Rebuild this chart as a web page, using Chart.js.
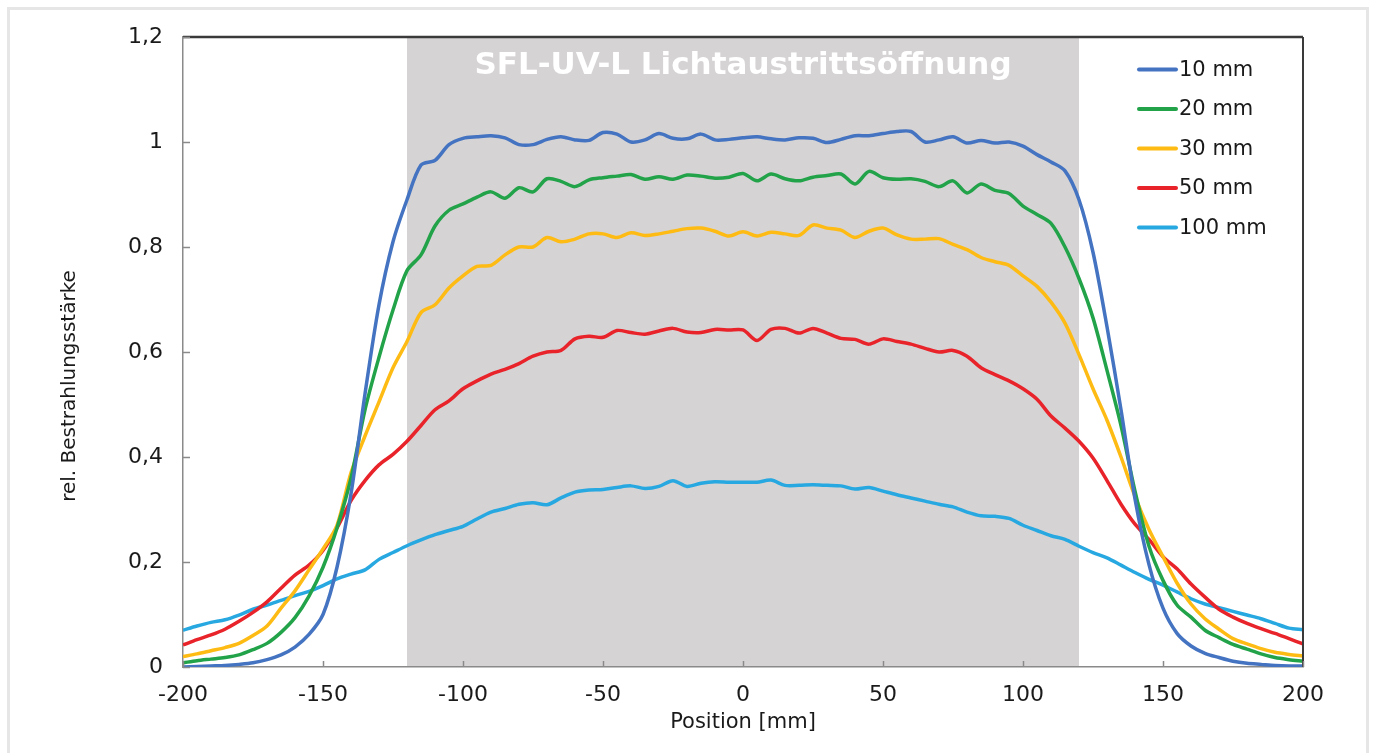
<!DOCTYPE html>
<html>
<head>
<meta charset="utf-8">
<script src="https://cdn.jsdelivr.net/npm/chart.js@4.4.1/dist/chart.umd.min.js"></script>
<style>
  html, body { margin: 0; padding: 0; background: #ffffff; }
  #frame { position: absolute; left: 7px; top: 7px; width: 1362px; height: 760px; border: 3px solid #e6e6e6; box-sizing: border-box; }
  #wrap { position: absolute; left: 0; top: 0; width: 1375px; height: 753px; }
</style>
</head>
<body>
<div id="frame"></div>
<div id="wrap"><canvas id="c" width="1375" height="753"></canvas></div>
<script>
// ---- data ----
const POSITIONS = [-200,-195,-190,-185,-180,-175,-170,-165,-160,-155,-150,-145,-140,-135,-130,-125,-120,-115,-110,-105,-100,-95,-90,-85,-80,-75,-70,-65,-60,-55,-50,-45,-40,-35,-30,-25,-20,-15,-10,-5,0,5,10,15,20,25,30,35,40,45,50,55,60,65,70,75,80,85,90,95,100,105,110,115,120,125,130,135,140,145,150,155,160,165,170,175,180,185,190,195,200];

const SERIES_NAMES = ['10 mm', '20 mm', '30 mm', '50 mm', '100 mm'];

const VALUES_10MM = [0.000,0.001,0.002,0.003,0.005,0.008,0.014,0.023,0.038,0.062,0.100,0.190,0.330,0.520,0.690,0.810,0.890,0.956,0.965,0.995,1.007,1.010,1.012,1.008,0.995,0.995,1.005,1.010,1.004,1.003,1.018,1.015,1.000,1.004,1.016,1.007,1.006,1.015,1.004,1.005,1.008,1.010,1.006,1.004,1.008,1.007,0.999,1.005,1.012,1.012,1.016,1.020,1.020,1.000,1.004,1.010,0.998,1.003,0.998,1.000,0.992,0.976,0.962,0.945,0.890,0.790,0.648,0.490,0.320,0.195,0.112,0.064,0.040,0.026,0.018,0.011,0.007,0.005,0.003,0.002,0.002];

const VALUES_20MM = [0.008,0.012,0.015,0.018,0.023,0.033,0.045,0.066,0.094,0.135,0.190,0.265,0.360,0.490,0.590,0.680,0.755,0.785,0.840,0.870,0.882,0.895,0.905,0.893,0.913,0.905,0.930,0.925,0.915,0.928,0.932,0.935,0.938,0.929,0.934,0.929,0.937,0.935,0.931,0.933,0.940,0.926,0.939,0.930,0.926,0.933,0.936,0.939,0.920,0.944,0.932,0.929,0.930,0.925,0.915,0.926,0.903,0.920,0.908,0.902,0.878,0.862,0.845,0.800,0.740,0.665,0.565,0.460,0.335,0.230,0.165,0.118,0.095,0.070,0.056,0.043,0.034,0.025,0.018,0.014,0.011];

const VALUES_30MM = [0.020,0.025,0.031,0.037,0.045,0.060,0.078,0.112,0.145,0.185,0.225,0.270,0.370,0.440,0.505,0.570,0.620,0.675,0.690,0.722,0.745,0.763,0.765,0.785,0.800,0.800,0.818,0.810,0.815,0.825,0.825,0.818,0.827,0.822,0.825,0.830,0.835,0.836,0.830,0.821,0.829,0.821,0.828,0.825,0.822,0.842,0.836,0.832,0.818,0.830,0.836,0.823,0.815,0.815,0.816,0.805,0.795,0.780,0.772,0.765,0.745,0.725,0.695,0.655,0.595,0.530,0.470,0.400,0.325,0.262,0.210,0.160,0.120,0.092,0.072,0.054,0.044,0.035,0.028,0.024,0.021];

const VALUES_50MM = [0.042,0.052,0.061,0.072,0.087,0.104,0.124,0.150,0.175,0.194,0.222,0.265,0.317,0.355,0.385,0.405,0.430,0.460,0.490,0.507,0.530,0.545,0.558,0.567,0.578,0.592,0.600,0.603,0.625,0.630,0.628,0.641,0.637,0.634,0.640,0.645,0.638,0.637,0.643,0.642,0.642,0.622,0.643,0.645,0.636,0.645,0.636,0.626,0.624,0.615,0.625,0.620,0.615,0.607,0.600,0.603,0.592,0.570,0.557,0.545,0.530,0.510,0.478,0.455,0.430,0.398,0.355,0.310,0.272,0.243,0.210,0.187,0.158,0.133,0.110,0.095,0.083,0.073,0.064,0.054,0.044];

const VALUES_100MM = [0.070,0.078,0.085,0.090,0.099,0.110,0.118,0.127,0.136,0.144,0.155,0.168,0.177,0.185,0.205,0.218,0.231,0.242,0.252,0.260,0.268,0.282,0.295,0.302,0.310,0.313,0.309,0.322,0.333,0.337,0.338,0.342,0.345,0.340,0.344,0.355,0.344,0.350,0.353,0.352,0.352,0.352,0.356,0.346,0.346,0.347,0.346,0.345,0.339,0.342,0.335,0.328,0.322,0.316,0.310,0.305,0.295,0.288,0.287,0.283,0.270,0.260,0.250,0.243,0.230,0.218,0.208,0.194,0.180,0.167,0.156,0.143,0.130,0.120,0.113,0.106,0.099,0.092,0.083,0.074,0.071];

const APERTURE = [-120, 120];
const APERTURE_LABEL = 'SFL-UV-L Lichtaustrittsöffnung';
const X_TICKS = [-200, -150, -100, -50, 0, 50, 100, 150, 200];
const Y_TICKS = [0, 0.2, 0.4, 0.6, 0.8, 1, 1.2];
const X_TITLE = 'Position [mm]';
const Y_TITLE = 'rel. Bestrahlungsstärke';

// ---- styles ----
const COLORS = ['#4473c1', '#22a34a', '#fdbb14', '#e8232a', '#28a8e0'];
const ALL_VALUES = [VALUES_10MM, VALUES_20MM, VALUES_30MM, VALUES_50MM, VALUES_100MM];
const FONT = '"DejaVu Sans", "Liberation Sans", sans-serif';

const datasets = SERIES_NAMES.map((name, i) => ({
  label: name,
  data: POSITIONS.map((p, k) => ({ x: p, y: ALL_VALUES[i][k] })),
  borderColor: COLORS[i],
  backgroundColor: COLORS[i],
  borderWidth: 3.5,
  pointRadius: 0,
  tension: 0.3,
  fill: false
}));

const fmt = v => String(Math.round(v * 10) / 10).replace('.', ',');

const bandPlugin = {
  id: 'band',
  beforeDraw(chart) {
    const { ctx, chartArea: a, scales: { x } } = chart;
    const x0 = x.getPixelForValue(APERTURE[0]);
    const x1 = x.getPixelForValue(APERTURE[1]);
    ctx.save();
    ctx.fillStyle = '#d6d3d4';
    ctx.fillRect(x0, a.top, x1 - x0, a.bottom - a.top);
    ctx.fillStyle = '#ffffff';
    ctx.font = 'bold 31px ' + FONT;
    ctx.textAlign = 'center';
    ctx.textBaseline = 'middle';
    ctx.fillText(APERTURE_LABEL, (x0 + x1) / 2, 66);
    ctx.restore();
  },
  afterDraw(chart) {
    const { ctx, chartArea: a, scales: { x, y } } = chart;
    ctx.save();
    // top & right frame
    ctx.strokeStyle = '#3a3a3a';
    ctx.lineWidth = 2.5;
    ctx.beginPath();
    ctx.moveTo(a.left, a.top);
    ctx.lineTo(a.right, a.top);
    ctx.stroke();
    ctx.lineWidth = 2;
    ctx.beginPath();
    ctx.moveTo(a.right, a.top);
    ctx.lineTo(a.right, a.bottom);
    ctx.stroke();
    // inner tick marks
    ctx.strokeStyle = '#8a8a8a';
    ctx.lineWidth = 1.5;
    Y_TICKS.forEach(v => {
      const py = Math.round(y.getPixelForValue(v)) + 0.5;
      ctx.beginPath();
      ctx.moveTo(a.left, py);
      ctx.lineTo(a.left + 7, py);
      ctx.stroke();
    });
    X_TICKS.forEach(v => {
      const px = Math.round(x.getPixelForValue(v)) + 0.5;
      ctx.beginPath();
      ctx.moveTo(px, a.bottom);
      ctx.lineTo(px, a.bottom - 6);
      ctx.stroke();
    });
    // legend
    chart.data.datasets.forEach((ds, i) => {
      const ly = 69.5 + i * 39.5;
      ctx.strokeStyle = ds.borderColor;
      ctx.lineWidth = 4;
      ctx.lineCap = 'round';
      ctx.beginPath();
      ctx.moveTo(1139, ly);
      ctx.lineTo(1176, ly);
      ctx.stroke();
      ctx.fillStyle = '#1a1a1a';
      ctx.font = '21px ' + FONT;
      ctx.textAlign = 'left';
      ctx.textBaseline = 'middle';
      ctx.fillText(ds.label, 1179, ly + 1);
    });
    // y axis title
    ctx.translate(70, 386);
    ctx.rotate(-Math.PI / 2);
    ctx.fillStyle = '#1a1a1a';
    ctx.font = '20px ' + FONT;
    ctx.textAlign = 'center';
    ctx.textBaseline = 'middle';
    ctx.fillText(Y_TITLE, 0, 0);
    ctx.restore();
  }
};

new Chart(document.getElementById('c'), {
  type: 'line',
  data: { datasets },
  options: {
    responsive: false,
    animation: false,
    devicePixelRatio: 1,
    layout: { padding: { top: 37, right: 72, left: 0, bottom: 0 } },
    plugins: { legend: { display: false }, tooltip: { enabled: false } },
    scales: {
      x: {
        type: 'linear',
        min: -200, max: 200,
        afterFit: s => { s.height = 86; },
        afterBuildTicks: s => { s.ticks = X_TICKS.map(v => ({ value: v })); },
        grid: { display: false, drawTicks: false },
        border: { display: true, color: '#8a8a8a', width: 1.5 },
        ticks: { padding: 15, color: '#1a1a1a', font: { family: FONT, size: 22 }, callback: v => String(v), maxRotation: 0 },
        title: { display: true, text: X_TITLE, color: '#1a1a1a', font: { family: FONT, size: 21 }, padding: { top: 0, bottom: 18 } }
      },
      y: {
        type: 'linear',
        min: 0, max: 1.2,
        afterFit: s => { s.width = 183; },
        afterBuildTicks: s => { s.ticks = Y_TICKS.map(v => ({ value: v })); },
        grid: { display: false, drawTicks: false },
        border: { display: true, color: '#8a8a8a', width: 1.5 },
        ticks: { padding: 20, color: '#1a1a1a', font: { family: FONT, size: 22 }, callback: v => fmt(v) }
      }
    }
  },
  plugins: [bandPlugin]
});
</script>
</body>
</html>
